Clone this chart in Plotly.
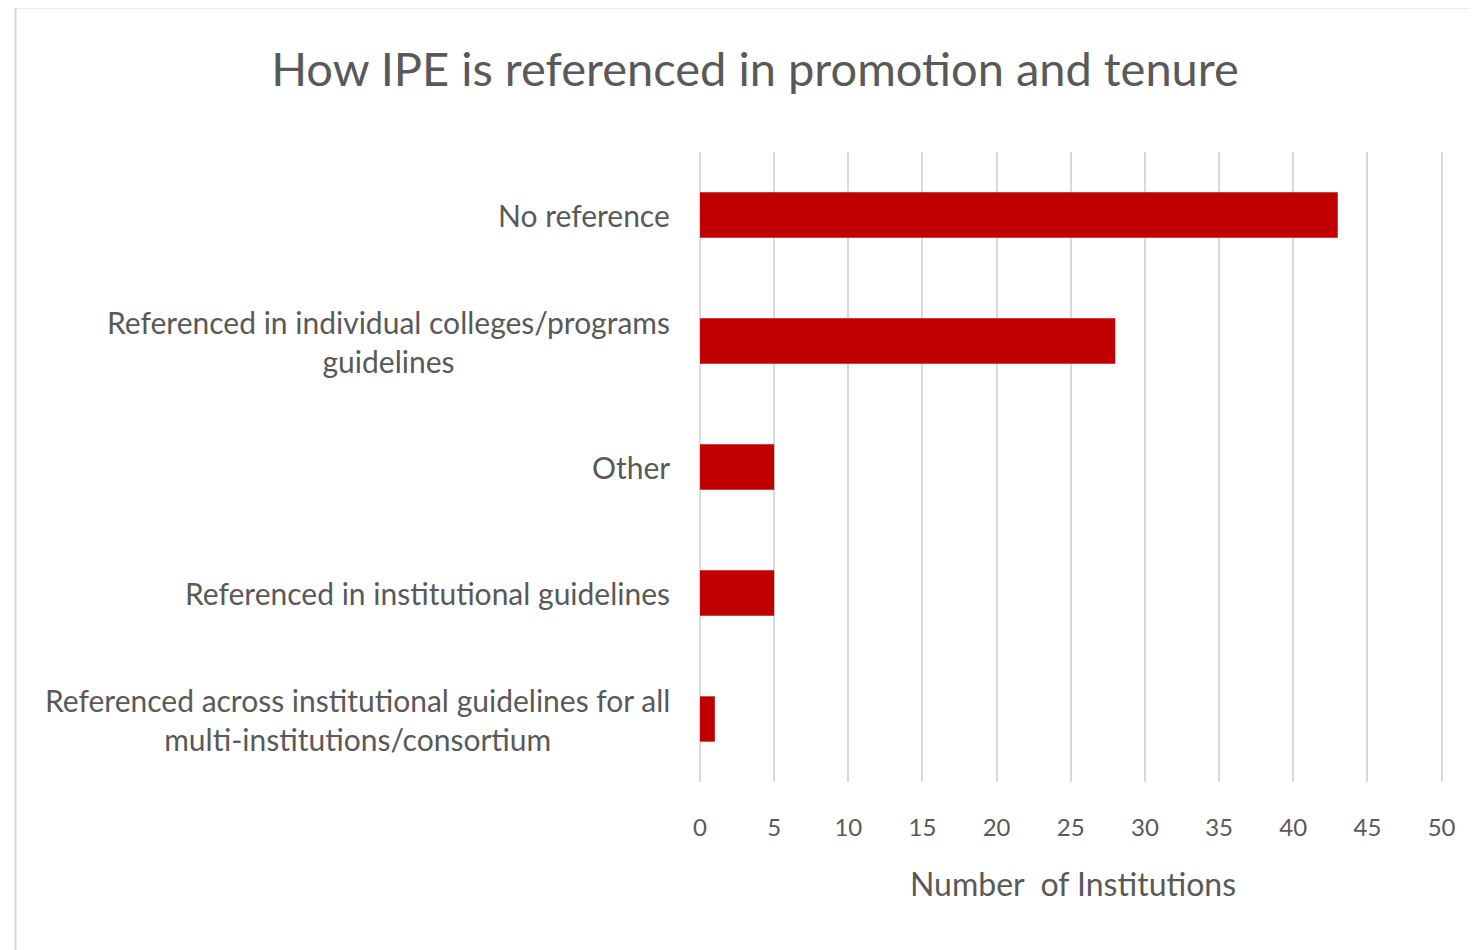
import plotly.graph_objects as go

categories = [
    "No reference",
    "Referenced in individual colleges/programs<br>guidelines",
    "Other",
    "Referenced in institutional guidelines",
    "Referenced across institutional guidelines for all<br>multi-institutions/consortium",
]
values = [43, 28, 5, 5, 1]
x_ticks = [0, 5, 10, 15, 20, 25, 30, 35, 40, 45, 50]

OFF = 8  # page body margin
W, H = 1478 - OFF, 950 - OFF
L, R, T, B = 700 - OFF, 1446 - OFF, 152 - OFF, 782 - OFF
pw, ph = R - L, B - T

def px(x):
    return (x - OFF - L) / pw

def py(y):
    return (B - (y - OFF)) / ph

FONT = "Lato"
GRAY = "#595959"

fig = go.Figure()
fig.add_trace(go.Bar(
    x=values, y=categories, orientation="h",
    marker=dict(color="#c00000", line=dict(width=0)),
    width=0.36,
))

fig.update_layout(
    width=W, height=H,
    margin=dict(l=L, r=W - R, t=T, b=H - B),
    paper_bgcolor="white", plot_bgcolor="white",
    showlegend=False,
    title=dict(text="How IPE is referenced in promotion and tenure",
               x=(755 - OFF) / W, xanchor="center", y=1 - (70 - OFF) / H, yanchor="middle",
               font=dict(family=FONT, size=47, color=GRAY)),
    xaxis=dict(range=[0, 50.3], tickvals=x_ticks, showgrid=True, gridcolor="#d9d9d9",
               gridwidth=1.5, zeroline=True, zerolinecolor="#d9d9d9", zerolinewidth=1.5,
               showline=False,
               ticks="outside", ticklen=0, tickcolor="white",
               ticklabelstandoff=24,
               tickfont=dict(family=FONT, size=24, color=GRAY),
               title=dict(text="Number  of Institutions", standoff=33,
                          font=dict(family=FONT, size=32, color=GRAY))),
    yaxis=dict(categoryorder="array", categoryarray=categories[::-1],
               range=[-0.5, 4.5],
               showticklabels=False, showgrid=False, zeroline=False, showline=False),
)

for c in categories:
    fig.add_annotation(x=px(672), xref="paper", y=c, yref="y", text=c,
                       xanchor="right", yanchor="middle", align="center",
                       showarrow=False,
                       font=dict(family=FONT, size=30, color=GRAY))

fig.add_shape(type="rect", xref="paper", yref="paper",
              x0=px(15.5), x1=px(1490), y0=py(7.5), y1=py(960),
              line=dict(color="#d9d9d9", width=2), fillcolor="rgba(0,0,0,0)",
              layer="below")

fig.write_html("out.html")
